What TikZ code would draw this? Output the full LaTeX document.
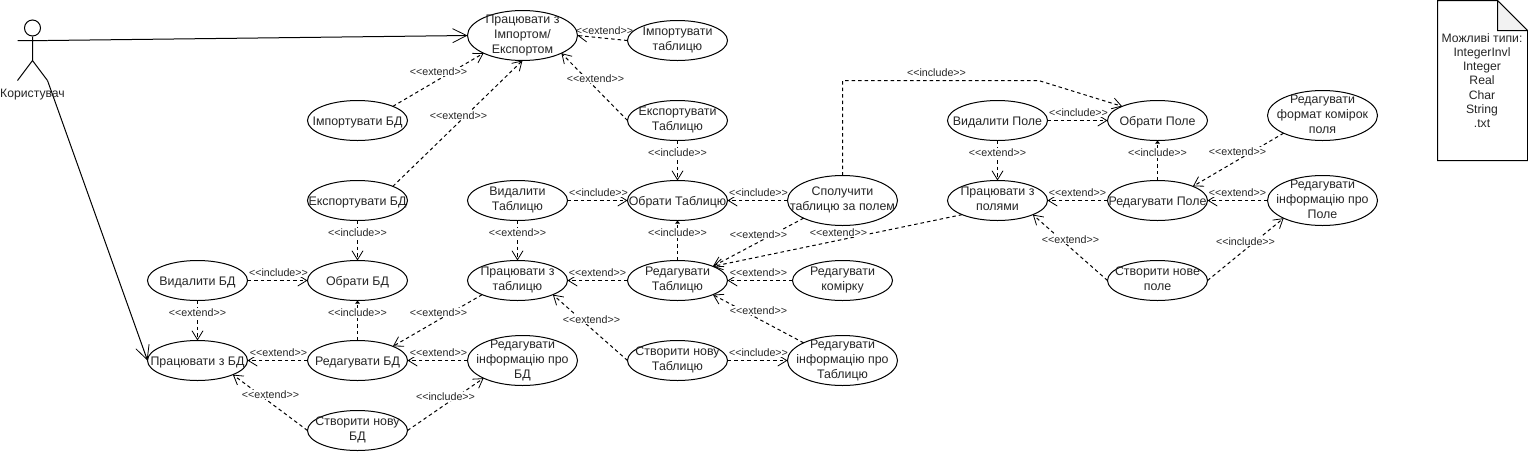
\documentclass[tikz,border=0pt]{standalone}
\usepackage{fontspec}
\setmainfont{Liberation Sans}
\usetikzlibrary{shapes.geometric,arrows.meta,backgrounds}
\newcommand{\ext}{<{}<extend>{}>}
\newcommand{\inc}{<{}<include>{}>}
\tikzset{
  usecase/.style={ellipse,draw=black,line width=1pt,inner sep=-30pt,outer sep=0pt,align=center,
    minimum width=100pt,minimum height=40pt,font=\fontsize{12.4}{15}\selectfont,text=black!85,
    execute at begin node={\rule{0pt}{12.5pt}},execute at end node={\rule[-3.5pt]{0pt}{3.5pt}}},
  bigcase/.style={usecase,minimum width=110pt,minimum height=50pt},
  dep/.style={draw=black,line width=1pt,dash pattern=on 3.5pt off 3pt,-{Straight Barb[length=9pt,width=11pt,line width=0.8pt]}},
  depsmall/.style={draw=black,line width=1pt,dash pattern=on 3.5pt off 3pt,-{Triangle[length=3pt,width=4.5pt]}},
  assoc/.style={draw=black,line width=1pt,-{Straight Barb[length=14pt,width=14pt,line width=0.8pt]}},
  lab/.style={fill=white,inner sep=0.5pt,yshift=-1pt,font=\fontsize{10.7}{12}\selectfont,text=black!85},
  plain/.style={font=\fontsize{12.2}{14.2}\selectfont,align=center,text=black!85,inner sep=0pt},
  actorline/.style={draw=black,line width=1pt},
}
\begin{document}
\begin{tikzpicture}[x=1pt,y=-1pt]
\useasboundingbox (-0.5,-0.5) rectangle (1527.5,450.5);
% use cases
\node[bigcase] (wie) at (522,35) {Працювати з\\Імпортом/\\Експортом};
\node[usecase] (itab) at (677,40) {Імпортувати\\таблицю};
\node[usecase] (idb) at (357,120) {Імпортувати БД};
\node[usecase] (etab) at (677,120) {Експортувати\\Таблицю};
\node[usecase] (edb) at (357,200) {Експортувати БД};
\node[usecase] (dtab) at (517,200) {Видалити\\Таблицю};
\node[usecase] (stab) at (677,200) {Обрати Таблицю};
\node[bigcase] (join) at (842,200) {Сполучити\\таблицю за полем};
\node[usecase] (ddb) at (197,280) {Видалити БД};
\node[usecase] (sdb) at (357,280) {Обрати БД};
\node[usecase] (wtab) at (517,280) {Працювати з\\таблицю};
\node[usecase] (rtab) at (677,280) {Редагувати\\Таблицю};
\node[usecase] (cell) at (842,280) {Редагувати\\комірку};
\node[usecase] (wdb) at (197,360) {Працювати з БД};
\node[usecase] (rdb) at (357,360) {Редагувати БД};
\node[bigcase] (idbinfo) at (522,360) {Редагувати\\інформацію про\\БД};
\node[usecase] (ntab) at (677,360) {Створити нову\\Таблицю};
\node[bigcase] (itabinfo) at (842,360) {Редагувати\\інформацію про\\Таблицю};
\node[usecase] (ndb) at (357,430) {Створити нову\\БД};
\node[usecase] (dfld) at (997,120) {Видалити Поле};
\node[usecase] (sfld) at (1157,120) {Обрати Поле};
\node[bigcase] (ffld) at (1322,115) {Редагувати\\формат комірок\\поля};
\node[usecase] (wfld) at (997,200) {Працювати з\\полями};
\node[usecase] (rfld) at (1157,200) {Редагувати Поле};
\node[bigcase] (ifld) at (1322,200) {Редагувати\\інформацію про\\Поле};
\node[usecase] (nfld) at (1157,280) {Створити нове\\поле};
% actor
\node[circle,draw=black,line width=1pt,minimum size=16pt,inner sep=0pt] (head) at (32,27.5) {};
\coordinate (hip) at (32,60);
\coordinate (handl) at (17,40);
\coordinate (handr) at (47,40);
\coordinate (footl) at (17,80);
\coordinate (footr) at (47,80);
\draw[actorline] (head.south) -- (hip) (handl) -- (handr) (hip) -- (footl) (hip) -- (footr);
\node[plain] (actor) at (32,94.5) {Користувач};
% note
\coordinate (n1) at (1437,0);
\coordinate (n2) at (1497,0);
\coordinate (n3) at (1527,30);
\coordinate (n4) at (1527,160);
\coordinate (n5) at (1437,160);
\coordinate (n6) at (1497,30);
\draw[line width=1pt,fill=white] (n1) -- (n2) -- (n3) -- (n4) -- (n5) -- cycle;
\draw[line width=1pt,fill=black!5] (n2) -- (n3) -- (n6) -- cycle;
\node[plain] (notetext) at (1481.5,80) {Можливі типи:\\IntegerInvl\\Integer\\Real\\Char\\String\\.txt};
\begin{pgfonlayer}{background}
\fill[white] (-0.5,-0.5) rectangle (1527.5,450.5);
% associations
\draw[assoc] (handr) -- (wie.west);
\draw[assoc] (footr) -- (wdb.west);
% top
\draw[dep] (idb.north east) -- (wie.south west);
\draw[dep] (edb.north east) -- (wie.south);
\draw[dep] (itab.west) -- (wie.east);
\draw[dep] (etab.west) -- (wie.south east);
\draw[dep] (etab.south) -- (stab.north);
\draw[dep] (edb.south) -- (sdb.north);
\draw[dep] (dtab.east) -- (stab.west);
\draw[dep] (dtab.south) -- (wtab.north);
\draw[dep] (join.west) -- (stab.east);
\coordinate (c1) at (842,80);
\coordinate (c2) at (1038,80);
\draw[dep] (join.north) -- (c1) -- (c2) -- (sfld.north west);
\draw[dep] (join.south west) -- (rtab.north east);
\draw[dep] (wfld.south west) -- (rtab.north east);
\draw[depsmall] (rtab.north) -- (stab.south);
\draw[depsmall] (rdb.north) -- (sdb.south);
\draw[depsmall] (rfld.north) -- (sfld.south);
\draw[dep] (rtab.west) -- (wtab.east);
\draw[dep] (cell.west) -- (rtab.east);
\draw[dep] (itabinfo.north west) -- (rtab.south east);
\draw[dep] (ntab.west) -- (wtab.south east);
\draw[dep] (ntab.east) -- (itabinfo.west);
\draw[dep] (wtab.south west) -- (rdb.north east);
\draw[dep] (ddb.east) -- (sdb.west);
\draw[dep] (ddb.south) -- (wdb.north);
\draw[dep] (rdb.west) -- (wdb.east);
\draw[dep] (idbinfo.west) -- (rdb.east);
\draw[dep] (ndb.west) -- (wdb.south east);
\draw[dep] (ndb.east) -- (idbinfo.south west);
\draw[dep] (dfld.east) -- (sfld.west);
\draw[dep] (dfld.south) -- (wfld.north);
\draw[dep] (rfld.west) -- (wfld.east);
\draw[dep] (ffld.south west) -- (rfld.north east);
\draw[dep] (ifld.west) -- (rfld.east);
\draw[dep] (nfld.west) -- (wfld.south east);
\draw[dep] (nfld.east) -- (ifld.south west);
% labels
\node[lab] (l1) at (438,70) {\ext};
\node[lab] (l2) at (458,114) {\ext};
\node[lab] (l3) at (604,29) {\ext};
\node[lab] (l4) at (595,77) {\ext};
\node[lab] (l5) at (677,151) {\inc};
\node[lab] (l6) at (357,231) {\inc};
\node[lab] (l7) at (598,191) {\inc};
\node[lab] (l8) at (517,231) {\ext};
\node[lab] (l9) at (758,191) {\inc};
\node[lab] (l10) at (936,71) {\inc};
\node[lab] (l11) at (758,233) {\ext};
\node[lab] (l12) at (838,231) {\ext};
\node[lab] (l13) at (677,231) {\inc};
\node[lab] (l14) at (357,311) {\inc};
\node[lab] (l15) at (1157,151) {\inc};
\node[lab] (l16) at (597,271) {\ext};
\node[lab] (l17) at (758,271) {\ext};
\node[lab] (l18) at (758,309) {\ext};
\node[lab] (l19) at (591,318) {\ext};
\node[lab] (l20) at (758,351) {\inc};
\node[lab] (l21) at (438,311) {\ext};
\node[lab] (l22) at (278,271) {\inc};
\node[lab] (l23) at (197,311) {\ext};
\node[lab] (l24) at (278,351) {\ext};
\node[lab] (l25) at (438,351) {\ext};
\node[lab] (l26) at (270,393) {\ext};
\node[lab] (l27) at (445,395) {\inc};
\node[lab] (l28) at (1078,111) {\inc};
\node[lab] (l29) at (997,151) {\ext};
\node[lab] (l30) at (1077,191) {\ext};
\node[lab] (l31) at (1237,150) {\ext};
\node[lab] (l32) at (1237,191) {\ext};
\node[lab] (l33) at (1070,238) {\ext};
\node[lab] (l34) at (1245,240) {\inc};
\end{pgfonlayer}
\end{tikzpicture}
\end{document}
